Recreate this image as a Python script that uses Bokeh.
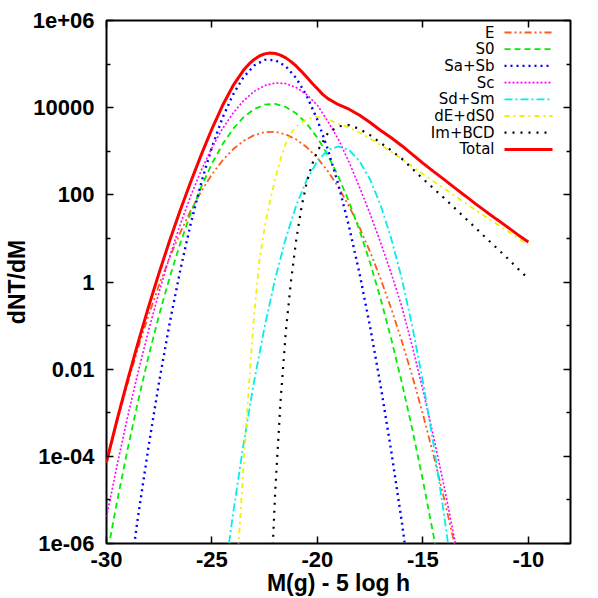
from bokeh.plotting import figure
from bokeh.models import (Range1d, FixedTicker, LinearAxis, LogAxis,
                          CustomJSTickFormatter, Label, Arrow)
from bokeh.embed import file_html
from bokeh.resources import INLINE

# ---------------- data ----------------
x_E = [-30, -29.5, -29, -28.5, -28, -27.5, -27, -26.5, -26, -25.5, -25, -24.5, -24,
       -23.5, -23, -22.5, -22, -21.5, -21, -20.5, -20, -19.5, -19, -18.5, -18, -17.5,
       -17, -16.5, -16, -15.5, -15, -14.5, -14, -13.5, -13]
y_E = [7.0e-5, 6.15e-4, 4.68e-3, 3.08e-2, 0.176, 0.869, 3.72, 13.8, 44.2, 123, 295, 615,
       1110, 1730, 2340, 2750, 2790, 2450, 1860, 1230, 700, 346, 148, 54.8, 17.6, 4.89,
       1.17, 0.245, 0.0442, 6.9e-3, 9.3e-4, 1.09e-4, 1.11e-5, 9.7e-7, 7.4e-8]

x_S0 = [-30, -29.5, -29, -28.5, -28, -27.5, -27, -26.5, -26, -25.5, -25, -24.5, -24,
        -23.5, -23, -22.5, -22, -21.5, -21, -20.5, -20, -19.5, -19, -18.5, -18, -17.5,
        -17, -16.5, -16, -15.5, -15, -14.5, -14]
y_S0 = [4.7e-7, 9.1e-6, 1.45e-4, 1.88e-3, 0.0203, 0.179, 1.30, 7.80, 38.5, 156, 521, 1440,
        3250, 6050, 9290, 11700, 12200, 10400, 7350, 4270, 2040, 800, 259, 68.9, 15.1,
        2.73, 0.406, 0.0495, 4.99e-3, 4.14e-4, 2.82e-5, 1.58e-6, 7.3e-8]

x_SaSb = [-29, -28.5, -28, -27.5, -27, -26.5, -26, -25.5, -25, -24.5, -24, -23.5, -23,
          -22.5, -22, -21.5, -21, -20.5, -20, -19.5, -19, -18.5, -18, -17.5, -17, -16.5,
          -16, -15.5]
y_SaSb = [7.6e-8, 4.27e-6, 1.76e-4, 5.31e-3, 0.117, 1.90, 22.5, 196, 1250, 5850, 20000,
          50400, 92500, 125000, 123000, 89100, 47300, 18400, 5240, 1090, 167, 18.7, 1.54,
          0.0927, 4.09e-3, 1.32e-4, 3.16e-6, 5.5e-8]

x_Sc = [-30, -29.5, -29, -28.5, -28, -27.5, -27, -26.5, -26, -25.5, -25, -24.5, -24,
        -23.5, -23, -22.5, -22, -21.5, -21, -20.5, -20, -19.5, -19, -18.5, -18, -17.5,
        -17, -16.5, -16, -15.5, -15, -14.5, -14, -13.5, -13]
y_Sc = [4.05e-6, 6.19e-5, 7.98e-4, 8.65e-3, 0.0789, 0.605, 3.91, 21.2, 97.0, 373, 1210,
        3290, 7530, 14500, 23600, 32100, 36900, 35600, 29000, 19800, 11400, 4790, 1860,
        562, 148, 36.3, 7.94, 1.58, 0.275, 0.0333, 3.40e-3, 2.93e-4, 2.12e-5, 1.29e-6,
        6.6e-8]

x_SdSm = [-24.5, -24, -23.5, -23, -22.5, -22, -21.5, -21, -20.5, -20, -19.5, -19, -18.5,
          -18, -17.5, -17, -16.5, -16, -15.5, -15, -14.5, -14, -13.5]
y_SdSm = [8.3e-8, 4.79e-6, 1.95e-4, 5.25e-3, 0.0955, 1.20, 10.0, 57.5, 224, 589, 1070,
          1290, 1070, 589, 224, 57.5, 10.0, 1.20, 0.0955, 5.25e-3, 1.95e-4, 4.79e-6, 8.3e-8]

x_dE = [-23.75, -23.5, -23.25, -23.0, -22.75, -22.5, -22.25, -22.0, -21.75, -21.5, -21.25,
        -21.0, -20.5, -20.0, -19.5, -19.0, -18.5, -18.0, -17.5, -17.0, -16.5, -16.0,
        -15.5, -15.0, -14.5, -14.0, -13.5, -13.0, -12.5, -12.0, -11.5, -11.0, -10.5, -10.0]
y_dE = [7.9e-7, 6.3e-5, 3.98e-3, 0.178, 3.16, 17.8, 70.8, 234, 661, 1480, 2570, 3720,
        5500, 6170, 5370, 4270, 3470, 2690, 1950, 1380, 977, 661, 447, 302, 204, 141,
        95.5, 66.1, 44.7, 30.9, 21.4, 14.8, 10.2, 7.08]

x_Im = [-22.25, -22.0, -21.75, -21.5, -21.25, -21.0, -20.75, -20.5, -20.25, -20.0, -19.5,
        -19.0, -18.5, -18.0, -17.5, -17.0, -16.5, -16.0, -15.5, -15.0, -14.5, -14.0,
        -13.5, -13.0, -12.5, -12.0, -11.5, -11.0, -10.5, -10.0]
y_Im = [3.2e-8, 1.58e-5, 1.78e-3, 0.0708, 1.07, 9.55, 53.7, 200, 501, 1000, 2630, 3720,
        3980, 3240, 2340, 1550, 1050, 676, 398, 234, 141, 85.1, 50.1, 29.5, 17.4, 10.2,
        6.03, 3.55, 2.04, 1.20]

x_Total = [-30, -29.5, -29, -28.5, -28, -27.5, -27, -26.5, -26, -25.5, -25, -24.5, -24,
           -23.5, -23.25, -23, -22.75, -22.5, -22.25, -22, -21.75, -21.5, -21.25, -21,
           -20.75, -20.5, -20.25, -20, -19.75, -19.5, -19, -18.5, -18, -17.5,
           -17, -16.5, -16, -15.5, -15, -14.5, -14, -13.5, -13, -12.5, -12, -11.5, -11,
           -10.5, -10]
y_Total = [7.45e-5, 6.86e-4, 5.62e-3, 0.0413, 0.275, 1.66, 9.05, 44.7, 202, 848, 3280,
           11200, 31900, 72700, 99600, 127700, 153200, 171600, 179000, 175100, 160800,
           139000, 114000, 89300, 67300, 49600, 36300, 27100, 20200, 16100, 11700, 9220,
           6700, 4560, 3000, 2040, 1340, 845, 536, 345, 226, 146, 95.6, 62.1, 41.1, 27.4,
           18.4, 12.2, 8.28]

series_names = ["E", "S0", "Sa+Sb", "Sc", "Sd+Sm", "dE+dS0", "Im+BCD", "Total"]

x_tick_values = [-30, -25, -20, -15, -10]
x_tick_labels = ["-30", "-25", "-20", "-15", "-10"]
y_tick_values = [1e-6, 1e-4, 1e-2, 1, 1e2, 1e4, 1e6]
y_tick_labels = ["1e-06", "1e-04", "0.01", "1", "100", "10000", "1e+06"]
y_minor_values = [1e-5, 1e-3, 1e-1, 10, 1e3, 1e5]

x_label = "M(g) - 5 log h"
y_label = "dNT/dM"

# ---------------- styles ----------------
styles = [
    dict(color="#ff5a1a", dash="7 3 2 3 2 3", width=1.8),
    dict(color="#00ee00", dash="6 4", width=1.8),
    dict(color="#0000ff", dash="2 4", width=2.4),
    dict(color="#ff00ff", dash="2 2", width=1.6),
    dict(color="#00eeee", dash="8 3 2 3", width=1.8),
    dict(color="#f0f000", dash="5 4 2 4", width=1.8),
    dict(color="#000000", dash="2 6", width=2.2),
    dict(color="#ff0000", dash="solid", width=3),
]

AXFONT = "Liberation Sans"
KEYFONT = "DejaVu Sans"

p = figure(width=598, height=598, x_range=Range1d(-30, -8), y_range=Range1d(1e-6, 1e6),
           y_axis_type="log", output_backend="svg", toolbar_location=None,
           min_border_left=104, min_border_right=28, min_border_top=20,
           min_border_bottom=52)
p.xgrid.visible = False
p.ygrid.visible = False
p.outline_line_color = "black"
p.outline_line_width = 2
p.background_fill_color = "white"
p.border_fill_color = "white"

yfmt = CustomJSTickFormatter(args=dict(vals=y_tick_values, labs=y_tick_labels), code="""
for (let i = 0; i < vals.length; i++) {
  if (Math.abs(Math.log10(tick) - Math.log10(vals[i])) < 1e-6) return labs[i];
}
return "";
""")
blank_fmt = CustomJSTickFormatter(code="return '';")

def style_axis(ax, labels=True):
    ax.axis_line_color = None
    ax.major_tick_in = 7
    ax.major_tick_out = 0
    ax.minor_tick_in = 4
    ax.minor_tick_out = 0
    ax.major_tick_line_color = "black"
    ax.major_tick_line_width = 1.5
    ax.minor_tick_line_color = "black"
    ax.minor_tick_line_width = 1.5
    ax.major_label_text_font = AXFONT
    ax.major_label_text_font_style = "bold"
    ax.major_label_text_font_size = "22px"
    ax.major_label_text_color = "black"
    ax.axis_label_text_font = AXFONT
    ax.axis_label_text_font_style = "bold"
    ax.axis_label_text_color = "black"
    if not labels:
        ax.formatter = blank_fmt
        ax.major_label_standoff = 0

xa = p.xaxis[0]
xa.ticker = FixedTicker(ticks=x_tick_values, minor_ticks=[])
xa.major_label_overrides = {v: s for v, s in zip(x_tick_values, x_tick_labels)}
style_axis(xa)
xa.major_label_standoff = 8
xa.axis_label = x_label
xa.axis_label_text_font_size = "23px"
xa.axis_label_standoff = 0

ya = p.yaxis[0]
ya.ticker = FixedTicker(ticks=y_tick_values, minor_ticks=y_minor_values)
ya.formatter = yfmt
style_axis(ya)
ya.major_label_standoff = 12
ya.axis_label = y_label
ya.axis_label_text_font_size = "23px"
ya.axis_label_standoff = 0

top = LinearAxis(ticker=FixedTicker(ticks=x_tick_values, minor_ticks=[]))
style_axis(top, labels=False)
p.add_layout(top, "above")
right = LogAxis(ticker=FixedTicker(ticks=y_tick_values, minor_ticks=y_minor_values))
style_axis(right, labels=False)
p.add_layout(right, "right")

data = [(x_E, y_E), (x_S0, y_S0), (x_SaSb, y_SaSb), (x_Sc, y_Sc), (x_SdSm, y_SdSm),
        (x_dE, y_dE), (x_Im, y_Im), (x_Total, y_Total)]
for (xs, ys), st in zip(data, styles):
    p.line(xs, ys, line_color=st["color"], line_width=st["width"], line_dash=st["dash"])

# ---------------- gnuplot-style key (text then sample) ----------------
key_text_x = 388
key_line_x0, key_line_x1 = 398, 446
key_first_y = 511
key_step = 16.7
for i, (name, st) in enumerate(zip(series_names, styles)):
    yy = key_first_y - i * key_step
    p.add_layout(Label(x=key_text_x, y=yy, x_units="screen", y_units="screen", text=name,
                       text_align="right", text_baseline="middle", text_font=KEYFONT,
                       text_font_size="15px", text_color="black"))
    p.add_layout(Arrow(end=None, x_start=key_line_x0, y_start=yy, x_end=key_line_x1,
                       y_end=yy, start_units="screen", end_units="screen",
                       line_color=st["color"], line_width=st["width"],
                       line_dash=st["dash"]))

open("out.html", "w").write(file_html(p, INLINE))
